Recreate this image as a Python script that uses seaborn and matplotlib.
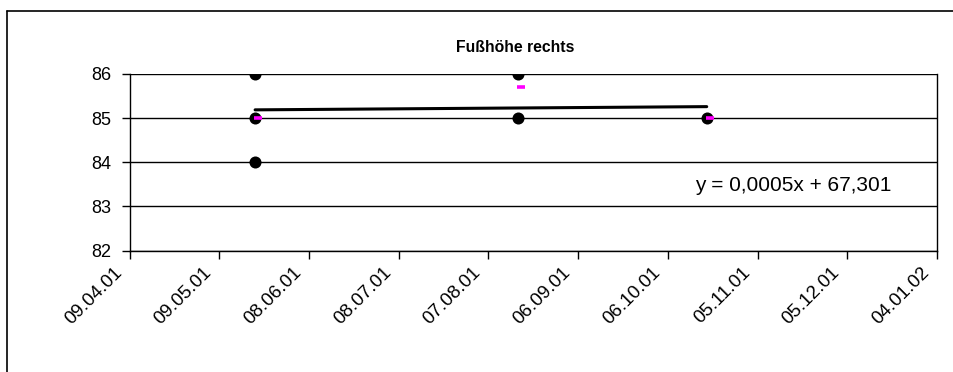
import matplotlib
matplotlib.use("Agg")
import matplotlib.pyplot as plt
import matplotlib.dates as mdates
import matplotlib.transforms as mtransforms
from matplotlib.lines import Line2D
import numpy as np
import pandas as pd
import seaborn as sns

# Measurements (date, value)
meas_dates = ["2001-05-21", "2001-05-21", "2001-05-21",
              "2001-08-17", "2001-08-17", "2001-10-19"]
meas_values = [86, 85, 84, 86, 85, 85]

# Mean per measurement day
mean_dates = ["2001-05-22", "2001-08-18", "2001-10-20"]
mean_values = [85.0, 85.7, 85.0]

# Linear trend (x = spreadsheet date serial)
trend_slope = 0.000483
trend_intercept = 67.301
trend_label = "y = 0,0005x + 67,301"

title = "Fußhöhe rechts"
x_start, x_end, x_step_days = "2001-04-09", "2002-01-04", 30
y_ticks = [82, 83, 84, 85, 86]

sns.set_style("white")
plt.rcParams["font.family"] = ["Liberation Sans", "DejaVu Sans"]

fig = plt.figure(figsize=(9.54, 3.72), dpi=100)
ax = fig.add_axes([129.5 / 954, 1 - 250.5 / 372, (937 - 129.5) / 954, (250.5 - 74) / 372])

df = pd.DataFrame({"date": pd.to_datetime(meas_dates), "value": meas_values})
dm = pd.DataFrame({"date": pd.to_datetime(mean_dates), "value": mean_values})

# Trend over the measured range
excel_epoch = pd.Timestamp("1899-12-30")
tdates = pd.to_datetime([meas_dates[0], meas_dates[-1]])
serial = np.array([(d - excel_epoch).days for d in tdates], dtype=float)
dt = pd.DataFrame({"date": tdates, "value": trend_slope * serial + trend_intercept})

for y in y_ticks:
    ax.axhline(y, color="black", lw=1.0, zorder=1)

sns.lineplot(data=dt, x="date", y="value", ax=ax, color="black", lw=2.2, zorder=3)
sns.scatterplot(data=df, x="date", y="value", ax=ax, color="black", s=75,
                edgecolor="black", linewidth=0, zorder=4)
ax.plot(dm["date"], dm["value"], linestyle="none", marker="_", markersize=5.5,
        markeredgewidth=2.6, color="#FF00FF", zorder=5)

ax.set_xlim(pd.Timestamp(x_start), pd.Timestamp(x_end))
ax.set_ylim(y_ticks[0], y_ticks[-1])
ax.set_yticks(y_ticks)
ax.set_xticks(pd.date_range(x_start, x_end, freq=f"{x_step_days}D"))
ax.xaxis.set_major_formatter(mdates.DateFormatter("%d.%m.%y"))
ax.set_xlabel("")
ax.set_ylabel("")

for s in ax.spines.values():
    s.set_color("black")
    s.set_linewidth(1.0)
ax.spines["top"].set_visible(False)

ax.tick_params(axis="both", which="major", direction="out", length=5.5, width=1,
               color="black", labelcolor="black", bottom=True, left=True)
ax.tick_params(axis="y", pad=7.5, labelsize=13)
ax.tick_params(axis="x", pad=0, labelsize=13.5)
shift = mtransforms.ScaledTranslation(-10 / 100, -12 / 100, fig.dpi_scale_trans)
for lab in ax.get_xticklabels():
    lab.set_rotation(45)
    lab.set_ha("right")
    lab.set_va("center")
    lab.set_rotation_mode("anchor")
    lab.set_transform(lab.get_transform() + shift)

ax.text(0.700, 0.371, trend_label, transform=ax.transAxes, ha="left", va="center",
        fontsize=15, color="black")
fig.text(515 / 954, 1 - 48 / 372, title, ha="center", va="center",
         fontsize=11.3, fontweight="bold", color="black")

# Outer chart frame (top and left edges)
fig.add_artist(Line2D([7 / 954, 1], [1 - 11 / 372, 1 - 11 / 372],
                      transform=fig.transFigure, color="black", lw=1.2))
fig.add_artist(Line2D([7 / 954, 7 / 954], [0, 1 - 11 / 372],
                      transform=fig.transFigure, color="black", lw=1.2))

fig.savefig("out.png", dpi=100, facecolor="white")
